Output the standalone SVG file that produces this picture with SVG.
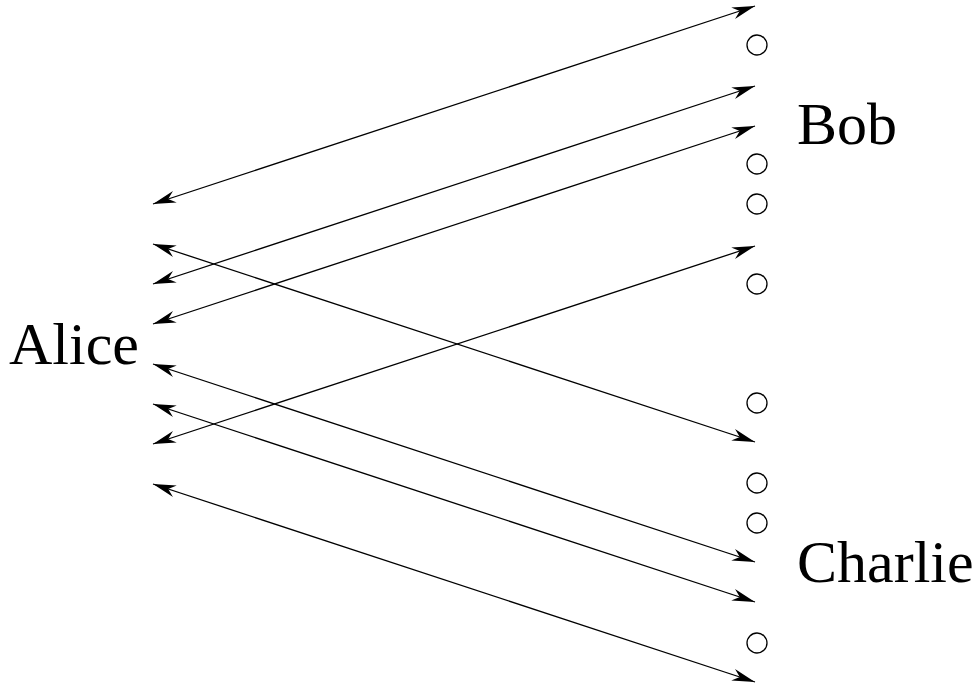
<svg xmlns="http://www.w3.org/2000/svg" width="979" height="684" viewBox="0 0 979 684">
<style>
.c{fill:none;stroke:#000;stroke-width:1.3}
.a{stroke:#000;stroke-width:1.3;fill:none;marker-start:url(#ah);marker-end:url(#ah)}
.t{font-family:"Liberation Serif","Times New Roman",serif;font-size:60px;fill:#000}
</style>
<defs>
<marker id="ah" markerUnits="userSpaceOnUse" viewBox="-24 -7 26 14" refX="0" refY="0" markerWidth="26" markerHeight="14" orient="auto-start-reverse">
<path d="M0,0 L-23,-6 L-16,0 L-23,6 Z" fill="#000"/>
</marker>
</defs>
<rect width="979" height="684" fill="#fff"/>
<g id="connectors">
<line class="a" x1="153" y1="204" x2="755" y2="6"/>
<line class="a" x1="153" y1="284" x2="755" y2="86"/>
<line class="a" x1="153" y1="324" x2="755" y2="126"/>
<line class="a" x1="153" y1="244" x2="755" y2="442"/>
<line class="a" x1="153" y1="444" x2="755" y2="246"/>
<line class="a" x1="153" y1="364" x2="755" y2="562"/>
<line class="a" x1="153" y1="404" x2="755" y2="602"/>
<line class="a" x1="153" y1="484" x2="755" y2="682"/>
</g>
<g id="circles">
<circle class="c" cx="757" cy="45" r="10"/>
<circle class="c" cx="757" cy="164" r="10"/>
<circle class="c" cx="757" cy="204" r="10"/>
<circle class="c" cx="757" cy="284" r="10"/>
<circle class="c" cx="757" cy="403" r="10"/>
<circle class="c" cx="757" cy="483" r="10"/>
<circle class="c" cx="757" cy="523" r="10"/>
<circle class="c" cx="757" cy="643" r="10"/>
</g>
<g id="alice"><text class="t" x="9" y="364">Alice</text></g>
<g id="bob"><text class="t" x="797" y="144">Bob</text></g>
<g id="charlie"><text class="t" x="797" y="582">Charlie</text></g>
</svg>
